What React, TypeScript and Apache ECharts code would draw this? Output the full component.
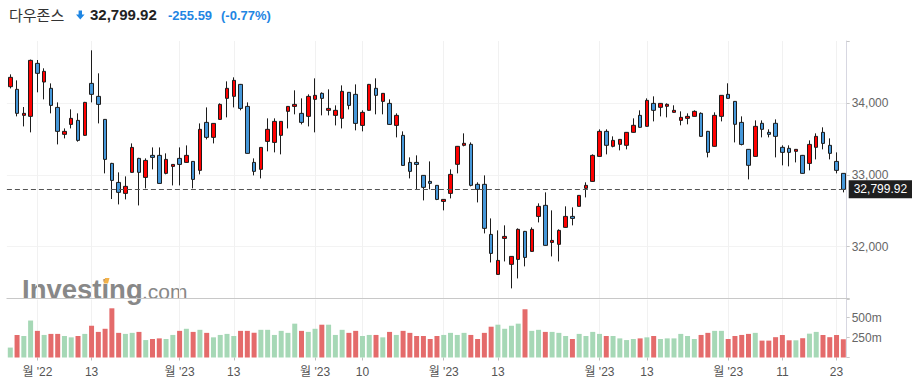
import React, { useEffect, useRef } from 'react';
import * as echarts from 'echarts';

// ---- data ----
const monthDays: [string, number[]][] = [
  ['2022-11', [25, 28, 29, 30]],
  ['2022-12', [1, 2, 5, 6, 7, 8, 9, 12, 13, 14, 15, 16, 19, 20, 21, 22, 23, 27, 28, 29, 30]],
  ['2023-01', [3, 4, 5, 6, 9, 10, 11, 12, 13, 17, 18, 19, 20, 23, 24, 25, 26, 27, 30, 31]],
  ['2023-02', [1, 2, 3, 6, 7, 8, 9, 10, 13, 14, 15, 16, 17, 21, 22, 23, 24, 27, 28]],
  ['2023-03', [1, 2, 3, 6, 7, 8, 9, 10, 13, 14, 15, 16, 17, 20, 21, 22, 23, 24, 27, 28, 29, 30, 31]],
  ['2023-04', [3, 4, 5, 6, 10, 11, 12, 13, 14, 17, 18, 19, 20, 21, 24, 25, 26, 27, 28]],
  ['2023-05', [1, 2, 3, 4, 5, 8, 9, 10, 11, 12, 15, 16, 17, 18, 19, 22, 23, 24]],
];
const dates: string[] = monthDays.flatMap(([m, ds]) => ds.map((d) => `${m}-${String(d).padStart(2, '0')}`));

const opens = [
  34232, 34195, 33832, 33818, 34557, 34297, 34209, 33943, 33567, 33706,
  33762, 33553, 34278, 34097, 33776, 33162, 32897, 32744, 33037, 33232,
  32967, 33274, 33274, 33023, 33120, 33232, 33176, 33190, 33065, 33734,
  33525, 33776, 34069, 34097, 34264, 33957, 33176, 33079, 33469, 33455,
  33553, 33888, 33957, 33860, 33818, 34055, 34139, 33902, 33832, 33790,
  34153, 34125, 33692, 33902, 34209, 34027, 33999, 33692, 33553, 33176,
  33176, 32995, 32911, 32856, 32632, 32744, 33149, 33414, 33428, 32870,
  32870, 32172, 31614, 32116, 31754, 31823, 32214, 31935, 32423, 32577,
  32060, 32033, 32270, 32423, 32563, 32814, 32911, 33260, 33609, 33400,
  33428, 33414, 33595, 33832, 33679, 33999, 33944, 33958, 33874, 33762,
  33790, 33818, 33860, 33609, 33400, 33818, 34125, 34027, 33734, 33358,
  33260, 33721, 33595, 33721, 33386, 33372, 33330, 33274, 33162, 33386,
  33595, 33414, 33190, 33023,
];
const closes = [
  34362, 33860, 33860, 34599, 34418, 34446, 33971, 33609, 33609, 33790,
  33483, 34013, 34125, 33985, 33218, 32925, 32758, 32842, 33385, 33037,
  33204, 33246, 32883, 33218, 33148, 33148, 33274, 32939, 33637, 33525,
  33720, 33985, 34209, 34320, 33929, 33302, 33051, 33385, 33637, 33748,
  33748, 33957, 33985, 33734, 34097, 34111, 34069, 33929, 33902, 34167,
  33971, 33720, 33874, 34264, 34111, 34139, 33706, 33832, 33134, 33051,
  33148, 32828, 32884, 32660, 32660, 33009, 33400, 33442, 32856, 32800,
  32256, 31907, 31809, 32144, 31865, 32242, 31851, 32242, 32563, 32019,
  32088, 32228, 32423, 32395, 32716, 32856, 33274, 33609, 33414, 33483,
  33497, 33595, 33693, 33665, 34041, 33902, 33999, 33986, 33902, 33804,
  33818, 33888, 33539, 33316, 33832, 34111, 34069, 33707, 33427, 33135,
  33679, 33637, 33567, 33539, 33316, 33316, 33358, 33023, 33427, 33539,
  33441, 33302, 33065, 32799.92,
];
const lows = [
  34208, 33818, 33678, 33595, 34153, 34055, 33860, 33427, 33511, 33650,
  33465, 33545, 34013, 33720, 33023, 32665, 32590, 32660, 33030, 32576,
  32814, 33079, 32880, 33010, 32855, 32855, 33170, 32814, 33009, 33497,
  33441, 33770, 33804, 33943, 33902, 33300, 32995, 32953, 33330, 33316,
  33288, 33650, 33846, 33706, 33678, 33595, 33832, 33832, 33692, 33650,
  33915, 33623, 33609, 33895, 33846, 33846, 33700, 33525, 33130, 32953,
  32800, 32646, 32800, 32650, 32507, 32674, 33023, 33400, 32842, 32618,
  32186, 31781, 31610, 31795, 31419, 31558, 31726, 31930, 32339, 32015,
  31865, 31795, 32265, 32298, 32560, 32688, 32905, 33255, 33288, 33386,
  33344, 33358, 33590, 33660, 33675, 33748, 33818, 33804, 33870, 33693,
  33707, 33815, 33535, 33246, 33395, 33748, 34065, 33455, 33413, 32939,
  33255, 33525, 33525, 33246, 33135, 33121, 33176, 33018, 33065, 33218,
  33358, 33218, 33023, 32758,
];
const highs = [
  34404, 34320, 33948, 34610, 34604, 34488, 34278, 34013, 33650, 33916,
  33860, 34020, 34739, 34418, 33780, 33170, 33037, 32981, 33441, 33240,
  33232, 33385, 33385, 33302, 33150, 33385, 33413, 33195, 33720, 33943,
  33725, 33999, 34306, 34362, 34270, 34013, 33232, 33390, 33790, 33790,
  33750, 33960, 34181, 34069, 34125, 34348, 34153, 34195, 33971, 34250,
  34155, 34264, 33902, 34270, 34348, 34142, 34055, 33860, 33609, 33246,
  33274, 33000, 33190, 32860, 32665, 33079, 33405, 33581, 33455, 32898,
  32995, 32395, 32228, 32298, 31870, 32256, 32220, 32270, 32605, 32758,
  32507, 32242, 32563, 32549, 32720, 32898, 33288, 33637, 33637, 33539,
  33500, 33600, 33790, 33902, 34069, 34097, 34003, 33999, 33972, 33888,
  33860, 33902, 33874, 33615, 33874, 34115, 34279, 34030, 33818, 33360,
  33762, 33762, 33637, 33776, 33414, 33414, 33362, 33280, 33483, 33581,
  33665, 33511, 33316, 33025,
];
// volume in millions
const volumes = [
  124, 282, 269, 462, 333, 282, 295, 295, 269, 252,
  269, 295, 397, 320, 359, 615, 308, 295, 308, 320,
  218, 231, 239, 231, 282, 333, 359, 320, 346, 308,
  252, 282, 295, 269, 333, 333, 308, 346, 346, 282,
  333, 308, 423, 333, 320, 359, 410, 410, 282, 346,
  308, 333, 269, 282, 282, 252, 320, 282, 333, 308,
  269, 269, 231, 269, 282, 308, 282, 308, 282, 231,
  308, 385, 410, 359, 397, 423, 603, 333, 346, 320,
  320, 308, 269, 231, 295, 269, 320, 295, 269, 269,
  239, 218, 231, 239, 252, 269, 231, 239, 239, 295,
  269, 231, 282, 308, 333, 333, 231, 269, 282, 295,
  308, 211, 211, 254, 281, 215, 215, 241, 298, 320,
  281, 254, 281, 228,
];
const tickLabels: Record<string, string> = {
  '2022-12-01': "월 '22",
  '2022-12-13': '13',
  '2023-01-03': "월 '23",
  '2023-01-13': '13',
  '2023-02-01': "월 '23",
  '2023-02-10': '10',
  '2023-03-01': "월 '23",
  '2023-03-13': '13',
  '2023-04-03': "월 '23",
  '2023-04-13': '13',
  '2023-05-01': "월 '23",
  '2023-05-11': '11',
  '2023-05-23': '23',
};
const priceTicks = [32000, 33000, 34000];
const volumeTicks = [250, 500];
const instrument = '다우존스';
const lastClose = 32799.92;
const change = -255.59;
const changePct = -0.77;

const FONT = "'Liberation Sans', Arial, 'Noto Sans CJK KR', sans-serif";
const BLUE_TXT = '#1f86e3';

export default function App() {
  const ref = useRef<HTMLDivElement>(null);
  useEffect(() => {
    if (!ref.current) return;
    const chart = echarts.init(ref.current, undefined, { renderer: 'svg' });
    const ohlc = dates.map((_, i) => [opens[i], closes[i], lows[i], highs[i]]);
    const volData = volumes.map((v, i) => ({
      value: v,
      itemStyle: { color: closes[i] >= opens[i] ? '#a6d8b6' : '#e46b6b' },
    }));
    const isTick = (idx: number) => tickLabels[dates[idx]] !== undefined;
    const fmt = (n: number) => n.toLocaleString('en-US', { minimumFractionDigits: 2, maximumFractionDigits: 2 });

    chart.setOption({
      animation: false,
      textStyle: { fontFamily: FONT },
      grid: [
        { left: 6.9, right: 65.3, top: 41, height: 257.5 },
        { left: 6.9, right: 65.3, top: 299.5, height: 58 },
      ],
      xAxis: [
        {
          type: 'category', gridIndex: 0, data: dates, boundaryGap: true,
          axisLine: { show: true, lineStyle: { color: '#c8c8c8', width: 1 } },
          axisTick: { show: false },
          axisLabel: { show: false },
          splitLine: { show: true, interval: isTick, alignWithLabel: true, lineStyle: { color: '#f1f1f1' } },
        },
        {
          type: 'category', gridIndex: 1, data: dates, boundaryGap: true,
          axisLine: { show: false },
          axisTick: { show: true, interval: isTick, alignWithLabel: true, length: 3, lineStyle: { color: '#bdbdbd' } },
          axisLabel: {
            show: true, interval: isTick, formatter: (v: string) => tickLabels[v] ?? '',
            color: '#555', fontSize: 12, margin: 8, fontFamily: FONT,
          },
          splitLine: { show: true, interval: isTick, alignWithLabel: true, lineStyle: { color: '#f1f1f1' } },
        },
      ],
      yAxis: [
        {
          type: 'value', gridIndex: 0, position: 'right', min: 31278, max: 34869, splitNumber: 4,
          axisLine: { show: true, lineStyle: { color: '#d7d7e1' } },
          axisTick: { show: true, length: 3, lineStyle: { color: '#c8c8c8' } },
          axisLabel: {
            formatter: (v: number) => (priceTicks.includes(v) ? v.toLocaleString('en-US') : ''),
            color: '#666', fontSize: 12, margin: 5, fontFamily: FONT,
          },
          splitLine: { show: true, showMinLine: false, showMaxLine: false, lineStyle: { color: '#f3f3f3' } },
        },
        {
          type: 'value', gridIndex: 1, position: 'right', min: 0, max: 725, interval: 250,
          axisLine: { show: true, lineStyle: { color: '#d7d7e1' } },
          axisTick: { show: true, length: 3, lineStyle: { color: '#c8c8c8' } },
          axisLabel: {
            formatter: (v: number) => (volumeTicks.includes(v) ? `${v}m` : ''),
            color: '#666', fontSize: 12, margin: 5, fontFamily: FONT,
          },
          splitLine: { show: false },
        },
      ],
      graphic: [
        { type: 'text', x: 22, y: 289.5, z: 0, silent: true,
          style: { text: 'Investing', font: `bold 27.5px ${FONT}`, fill: '#888', verticalAlign: 'middle' } },
        { type: 'text', x: 142, y: 291, z: 0, silent: true,
          style: { text: '.com', font: `21px ${FONT}`, fill: '#888', verticalAlign: 'middle' } },
        { type: 'polygon', z: 0, silent: true,
          shape: { points: [[103.5, 283.5], [108, 283.5], [109.5, 278], [105, 278]] },
          style: { fill: '#f3b24a' } },
        { type: 'text', x: 9, y: 14.5,
          style: { text: instrument, font: `15px 'Noto Sans CJK KR', sans-serif`, fill: '#333', verticalAlign: 'middle' } },
        { type: 'polygon',
          shape: { points: [[78.6, 10.5], [82, 10.5], [82, 14.5], [84.6, 14.5], [80.3, 19.5], [76, 14.5], [78.6, 14.5]] },
          style: { fill: BLUE_TXT } },
        { type: 'text', x: 90, y: 14.5,
          style: { text: fmt(lastClose), font: `bold 15px ${FONT}`, fill: '#222', verticalAlign: 'middle' } },
        { type: 'text', x: 168, y: 15.2,
          style: { text: fmt(change), font: `bold 13px ${FONT}`, fill: BLUE_TXT, verticalAlign: 'middle' } },
        { type: 'text', x: 221, y: 15.2,
          style: { text: `(${changePct.toFixed(2)}%)`, font: `bold 13px ${FONT}`, fill: BLUE_TXT, verticalAlign: 'middle' } },
      ],
      series: [
        {
          type: 'candlestick', xAxisIndex: 0, yAxisIndex: 0, data: ohlc, barWidth: 4,
          itemStyle: {
            color: '#ff0000', color0: '#4597d9',
            borderColor: '#1c1c1c', borderColor0: '#1c1c1c', borderWidth: 1,
          },
          markLine: {
            silent: true, symbol: ['none', 'none'],
            data: [{ yAxis: lastClose }],
            lineStyle: { color: '#555', type: [5, 3], width: 1.2 },
            label: {
              show: true, position: 'end', distance: 2, formatter: () => fmt(lastClose),
              color: '#fff', backgroundColor: '#1f1f1f', padding: [3, 5], fontSize: 12, fontFamily: FONT,
            },
          },
        },
        {
          type: 'bar', xAxisIndex: 1, yAxisIndex: 1, data: volData, barWidth: 5,
        },
      ],
    });
    return () => chart.dispose();
  }, []);
  return <div ref={ref} style={{ position: 'absolute', left: 0, top: 0, width: 912, height: 385 }} />;
}
